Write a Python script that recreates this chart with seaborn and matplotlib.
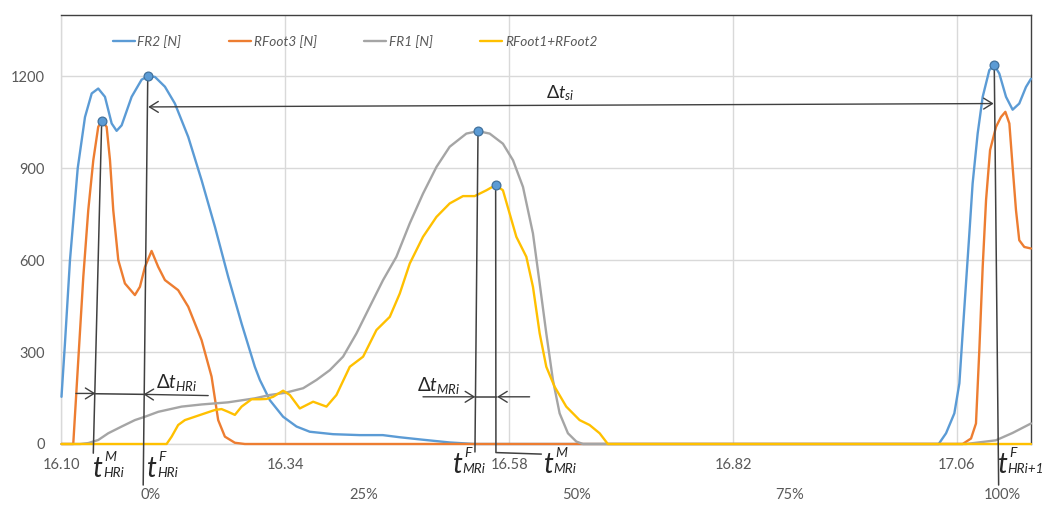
import matplotlib
matplotlib.use("Agg")
import numpy as np
import pandas as pd
import matplotlib.pyplot as plt
import seaborn as sns

# ---------------- data ----------------
series_names = ["FR2 [N]", "RFoot3 [N]", "FR1 [N]", "RFoot1+RFoot2"]
series_colors = ["#5B9BD5", "#ED7D31", "#A5A5A5", "#FFC000"]

t_fr2 = [16.1000, 16.1037, 16.1091, 16.1174, 16.1252, 16.1324, 16.1394, 16.1466, 16.1538, 16.1591,
         16.1645, 16.1752, 16.1859, 16.1925, 16.2002, 16.2109, 16.2216, 16.2359, 16.2502, 16.2645,
         16.2787, 16.2931, 16.3073, 16.3127, 16.3234, 16.3376, 16.3520, 16.3662, 16.3912, 16.4198,
         16.4445, 16.4627, 16.4873, 16.5162, 16.5430, 17.0405, 17.0484, 17.0573, 17.0627, 17.0662,
         17.0698, 17.0734, 17.0769, 17.0823, 17.0877, 17.0948, 17.1001, 17.1055, 17.1127, 17.1198,
         17.1269, 17.1341, 17.1395]
fr2 = [154, 328, 600, 900, 1067, 1144, 1160, 1133, 1046, 1022,
       1040, 1133, 1189, 1200, 1198, 1166, 1111, 1002, 861, 709,
       546, 393, 252, 209, 143, 89, 57, 40, 32, 29,
       29, 22, 14, 5, 0, 0, 35, 100, 198, 361,
       524, 687, 850, 1013, 1133, 1220, 1236, 1209, 1133, 1091,
       1111, 1165, 1192]

t_rf3 = [16.1000, 16.1126, 16.1180, 16.1234, 16.1287, 16.1341, 16.1394, 16.1431, 16.1484, 16.1520,
         16.1555, 16.1609, 16.1680, 16.1787, 16.1841, 16.1895, 16.1966, 16.2037, 16.2109, 16.2251,
         16.2359, 16.2502, 16.2609, 16.2680, 16.2752, 16.2859, 16.2966, 17.0662, 17.0752, 17.0805,
         17.0841, 17.0877, 17.0913, 17.0956, 17.1020, 17.1073, 17.1120, 17.1163, 17.1198, 17.1234,
         17.1269, 17.1323, 17.1395]
rf3 = [0, 0, 274, 546, 763, 926, 1035, 1054, 1035, 926,
       763, 600, 524, 486, 513, 578, 630, 578, 535, 502,
       448, 339, 220, 78, 24, 4, 0, 0, 18, 67,
       307, 578, 796, 959, 1035, 1067, 1084, 1046, 904, 763,
       665, 643, 638]

t_fr1 = [16.1000, 16.1198, 16.1287, 16.1394, 16.1501, 16.1645, 16.1787, 16.1895, 16.2037, 16.2288,
         16.2502, 16.2787, 16.3073, 16.3234, 16.3398, 16.3591, 16.3734, 16.3877, 16.4019, 16.4163,
         16.4305, 16.4448, 16.4591, 16.4734, 16.4876, 16.5020, 16.5162, 16.5341, 16.5466, 16.5591,
         16.5733, 16.5841, 16.5948, 16.6055, 16.6127, 16.6198, 16.6269, 16.6341, 16.6430, 16.6520,
         16.6591, 17.0698, 17.1018, 17.1197, 17.1395]
fr1 = [0, 0, 3, 13, 35, 57, 78, 89, 105, 122,
       129, 136, 149, 160, 167, 182, 209, 241, 285, 361,
       448, 535, 611, 720, 817, 904, 970, 1013, 1021, 1013,
       980, 926, 839, 687, 524, 361, 209, 100, 35, 8,
       0, 0, 12, 36, 67]

t_rf12 = [16.1000, 16.2127, 16.2181, 16.2251, 16.2323, 16.2430, 16.2537, 16.2645, 16.2716, 16.2787,
          16.2859, 16.2931, 16.3038, 16.3127, 16.3198, 16.3269, 16.3376, 16.3448, 16.3555, 16.3698,
          16.3841, 16.3948, 16.4091, 16.4234, 16.4377, 16.4520, 16.4627, 16.4734, 16.4876, 16.5020,
          16.5162, 16.5305, 16.5430, 16.5556, 16.5655, 16.5733, 16.5805, 16.5877, 16.5984, 16.6055,
          16.6127, 16.6198, 16.6287, 16.6412, 16.6555, 16.6662, 16.6770, 16.6858, 17.1395]
rf12 = [0, 0, 24, 62, 78, 89, 100, 111, 114, 105,
        95, 122, 146, 146, 147, 154, 174, 160, 116, 138,
        122, 160, 252, 285, 372, 415, 491, 589, 676, 741,
        785, 809, 809, 828, 845, 828, 752, 676, 611, 513,
        361, 252, 187, 122, 78, 62, 35, 0, 0]

# highlighted peaks
mark_t = [16.1431, 16.1925, 16.5466, 16.5655, 17.1001]
mark_v = [1054, 1200, 1021, 845, 1236]

x_ticks = [16.10, 16.34, 16.58, 16.82, 17.06]
x_tick_labels = ["16.10", "16.34", "16.58", "16.82", "17.06"]
y_ticks = [0, 300, 600, 900, 1200]
y_tick_labels = ["0", "300", "600", "900", "1200"]
pct_ticks = [0, 25, 50, 75, 100]
pct_labels = ["0%", "25%", "50%", "75%", "100%"]
pct_start, pct_end = 16.1959, 17.1087

# event labels: (time of left edge, subscript, superscript, baseline drop in px below axis)
event_t = [16.1342, 16.1922, 16.5200, 16.6175, 17.1042]
event_sub = ["HRi", "HRi", "MRi", "MRi", "HRi+1"]
event_sup = ["M", "F", "F", "M", "F"]
event_drop = [33, 33, 29, 29, 29]

# ---------------- style ----------------
sns.set_theme(style="white")
plt.rcParams["font.family"] = ["Lato", "DejaVu Sans"]
plt.rcParams["mathtext.fontset"] = "custom"
plt.rcParams["mathtext.it"] = "Lato:italic"
plt.rcParams["mathtext.rm"] = "Lato"
plt.rcParams["mathtext.bf"] = "Lato:bold"

fig, ax = plt.subplots(figsize=(10.44, 5.05), dpi=100)
fig.subplots_adjust(left=0.0589, right=0.988, bottom=0.1208, top=0.9703)

frames = []
for name, tt, vv in zip(series_names, [t_fr2, t_rf3, t_fr1, t_rf12], [fr2, rf3, fr1, rf12]):
    frames.append(pd.DataFrame({"t": tt, "F": vv, "series": name}))
df = pd.concat(frames, ignore_index=True)

sns.lineplot(data=df, x="t", y="F", hue="series", hue_order=series_names,
             palette=series_colors, estimator=None, lw=1.7, ax=ax, legend=True, zorder=3)
for ln in ax.lines:
    ln.set_clip_on(False)
    ln.set_solid_joinstyle("round")

# ---------------- annotations ----------------
acol = "#404040"
lkw = dict(color=acol, lw=1.1, clip_on=False, zorder=4)
# vertical reference lines
ax.plot([mark_t[0], 16.1341], [mark_v[0], -30], **lkw)
ax.plot([mark_t[1], 16.1876], [mark_v[1], -134], **lkw)
ax.plot([mark_t[2], 16.5433], [mark_v[2], -26], **lkw)
ax.plot([mark_t[3], 16.5658, 16.6145], [mark_v[3], -28, -33], **lkw)
ax.plot([mark_t[4], 17.1048], [mark_v[4], -134], **lkw)

akw = dict(arrowstyle="->,head_length=0.45,head_width=0.28", color=acol, lw=1.0,
           shrinkA=0, shrinkB=0, mutation_scale=14)
# delta t_si (double arrow)
ax.annotate("", xy=(16.1930, 1100), xytext=(17.0995, 1111),
            arrowprops=dict(akw, arrowstyle="<->,head_length=0.45,head_width=0.28"), zorder=4)
# delta t_HRi
ax.annotate("", xy=(16.1364, 165), xytext=(16.1155, 165), arrowprops=akw, zorder=4)
ax.plot([16.1364, 16.1879], [164, 162], **lkw)
ax.annotate("", xy=(16.1879, 162), xytext=(16.2573, 158), arrowprops=akw, zorder=4)
# delta t_MRi
ax.annotate("", xy=(16.5436, 154), xytext=(16.4876, 154), arrowprops=akw, zorder=4)
ax.plot([16.5436, 16.5671], [154, 154], **lkw)
ax.annotate("", xy=(16.5671, 154), xytext=(16.6019, 154), arrowprops=akw, zorder=4)

sns.scatterplot(x=mark_t, y=mark_v, s=40, color="#5B9BD5", edgecolor="#41719C",
                linewidth=0.9, ax=ax, zorder=6, legend=False, clip_on=False)

tcol = "#262626"
ax.text(16.6352, 1145, r"$\mathit{\Delta}t_{si}$", ha="center", va="center", fontsize=13, color=tcol)
ax.text(16.2237, 200, r"$\mathit{\Delta}t_{HRi}$", ha="center", va="center", fontsize=13.5, color=tcol)
ax.text(16.5044, 192, r"$\mathit{\Delta}t_{MRi}$", ha="center", va="center", fontsize=13.5, color=tcol)

# event time labels: big italic t with small sub/superscripts
for et, sub, sup, drop in zip(event_t, event_sub, event_sup, event_drop):
    ax.annotate("t", xy=(et, 0), xytext=(0, -drop), textcoords="offset pixels",
                ha="left", va="baseline", fontsize=20, style="italic", color=tcol,
                annotation_clip=False)
    ax.annotate(sub, xy=(et, 0), xytext=(9.5, -drop), textcoords="offset pixels",
                ha="left", va="baseline", fontsize=9.8, style="italic", color=tcol,
                annotation_clip=False)
    ax.annotate(sup, xy=(et, 0), xytext=(11, -drop + 16), textcoords="offset pixels",
                ha="left", va="baseline", fontsize=10, style="italic", color=tcol,
                annotation_clip=False)

# ---------------- axes ----------------
ax.set_xlim(16.10, 17.14)
ax.set_ylim(0, 1400)
ax.set_xticks(x_ticks)
ax.set_xticklabels(x_tick_labels)
ax.set_yticks(y_ticks)
ax.set_yticklabels(y_tick_labels)
ax.tick_params(axis="both", length=0, colors="#595959", labelsize=10.5)
ax.tick_params(axis="x", pad=10)
ax.tick_params(axis="y", pad=12)
ax.set_xlabel("")
ax.set_ylabel("")
ax.grid(True, color="#d9d9d9", lw=1)
ax.set_axisbelow(True)
for s in ["top", "right"]:
    ax.spines[s].set_color("#404040")
    ax.spines[s].set_linewidth(1.0)
for s in ["left", "bottom"]:
    ax.spines[s].set_color("#d9d9d9")
    ax.spines[s].set_linewidth(1.0)

sec = ax.secondary_xaxis(
    "bottom",
    functions=(lambda t: (np.asarray(t) - pct_start) / (pct_end - pct_start) * 100,
               lambda p: pct_start + np.asarray(p) / 100 * (pct_end - pct_start)))
sec.set_xticks(pct_ticks)
sec.set_xticklabels(pct_labels)
sec.tick_params(length=0, pad=32, colors="#595959", labelsize=10.5)
sec.spines["bottom"].set_visible(False)

handles, labels = ax.get_legend_handles_labels()
ax.legend(handles, labels, ncol=4, loc="center left", bbox_to_anchor=(0.053, 0.938),
          frameon=False, prop={"style": "italic", "size": 9.8}, labelcolor="#595959",
          handlelength=1.6, handletextpad=0.2, columnspacing=3.5, borderpad=0, borderaxespad=0)

fig.savefig("out.png", dpi=100)
